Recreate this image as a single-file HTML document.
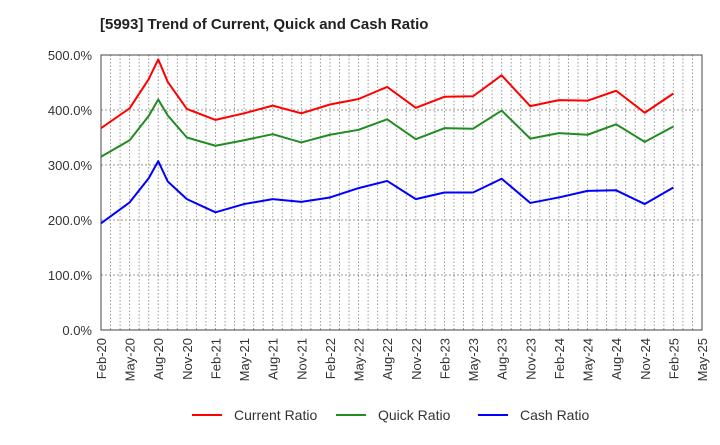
<!DOCTYPE html>
<html><head><meta charset="utf-8"><style>
body{margin:0;background:#fff;}
svg text{font-family:"Liberation Sans",sans-serif;fill:#333;}
</style></head><body>
<svg id="chart" width="720" height="440" xmlns="http://www.w3.org/2000/svg">
<text x="100" y="29" font-size="15" font-weight="bold" style="fill:#222">[5993]  Trend of Current, Quick and Cash Ratio</text>
<g id="grid"></g><g id="axes"></g><g id="series"></g><g id="legend"></g>
</svg>
<script>
const monthIdx=[0,3,5,6,7,9,12,15,18,21,24,27,30,33,36,39,42,45,48,51,54,57,60];
const currentRatio=[367,403,456,492,451,402,382,394,408,394,410,420,442,404,424,425,463,407,418,417,435,395,430];
const quickRatio=[315,345,389,419,390,350,335,345,356,341,355,364,383,347,367,366,399,348,358,355,374,342,370];
const cashRatio=[194,232,276,307,270,238,214,229,238,233,241,258,271,238,250,250,275,231,241,253,254,229,259];
const xLabels=["Feb-20","May-20","Aug-20","Nov-20","Feb-21","May-21","Aug-21","Nov-21","Feb-22","May-22","Aug-22","Nov-22","Feb-23","May-23","Aug-23","Nov-23","Feb-24","May-24","Aug-24","Nov-24","Feb-25","May-25"];
const yTicks=[0,100,200,300,400,500];
const NS="http://www.w3.org/2000/svg";
const L=101,R=702,T=55,B=330,totalMonths=63;
const xs=m=>L+(R-L)*m/totalMonths;
const ys=v=>B-(B-T)*v/500;
function mk(tag,parent,attrs){const e=document.createElementNS(NS,tag);for(const k in attrs)e.setAttribute(k,attrs[k]);parent.appendChild(e);return e;}
const grid=document.getElementById('grid'),axes=document.getElementById('axes'),series=document.getElementById('series'),legend=document.getElementById('legend');
for(let m=1;m<totalMonths;m++){
 const l=mk('line',grid,{x1:xs(m),x2:xs(m),y1:T,y2:B,stroke:'#999','stroke-width':1,'stroke-dasharray':'1.5,2'});
 
 
}
yTicks.forEach(v=>{
 if(v>0&&v<500){const l=mk('line',grid,{x1:L,x2:R,y1:ys(v),y2:ys(v),stroke:'#999','stroke-width':1,'stroke-dasharray':'2,2'});
 
 }
 const t=mk('text',axes,{x:92,y:ys(v)+5,'text-anchor':'end','font-size':13});
 t.textContent=v.toFixed(1)+'%';
 
 
});
const frame=mk('rect',axes,{x:L,y:T,width:R-L,height:B-T,fill:'none',stroke:'#444','stroke-width':1});


xLabels.forEach((s,i)=>{
 const x=xs(i*3)+5,y=338;
 const t=mk('text',axes,{x:x,y:y,'text-anchor':'end','font-size':13,transform:`rotate(-90 ${x} ${y})`});
 t.textContent=s;
 
 
});
const defs=[["Current Ratio",currentRatio,"#ff0000","current-ratio-line"],["Quick Ratio",quickRatio,"#228b22","quick-ratio-line"],["Cash Ratio",cashRatio,"#0000ff","cash-ratio-line"]];
defs.forEach(([name,vals,col,dn],k)=>{
 const p=mk('polyline',series,{points:vals.map((v,i)=>xs(monthIdx[i])+','+ys(v)).join(' '),fill:'none',stroke:col,'stroke-width':2,'stroke-linejoin':'round'});
 
 
 const lx=[192,336,478][k];
 const g=mk('g',legend,{});
 
 
 mk('line',g,{x1:lx,x2:lx+30,y1:415,y2:415,stroke:col,'stroke-width':2});
 const t=mk('text',g,{x:lx+42,y:420,'font-size':14});
 t.textContent=name;
});
</script>
</body></html>
